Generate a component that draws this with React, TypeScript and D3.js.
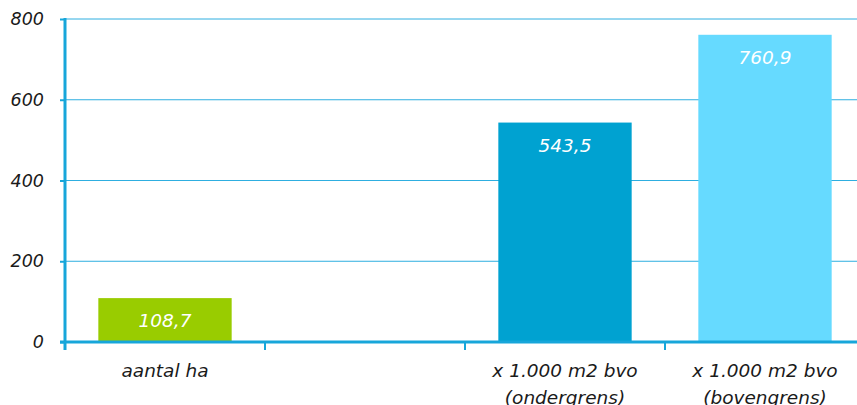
import React, { useEffect, useRef } from 'react'
import * as d3 from 'd3'

const categories = ['aantal ha', '', 'x 1.000 m2 bvo|(ondergrens)', 'x 1.000 m2 bvo|(bovengrens)']
const values: (number | null)[] = [108.7, null, 543.5, 760.9]
const barColors = ['#99cc00', '#ffffff', '#00a2d1', '#66daff']
const yTicks = [0, 200, 400, 600, 800]

const App = () => {
  const ref = useRef<SVGSVGElement>(null)
  const width = 857
  const height = 405

  useEffect(() => {
    const svg = d3.select(ref.current)
    svg.selectAll('*').remove()

    const left = 65, right = 865, top = 19, bottom = 342
    const font = 'DejaVu Sans, Verdana, sans-serif'
    const nl = d3.formatLocale({ decimal: ',', thousands: '.', grouping: [3], currency: ['€', ''] })
    const fmt = nl.format('.1f')

    const x = d3.scaleBand<number>()
      .domain(d3.range(categories.length))
      .range([left, right])
      .paddingInner(1 / 3)
      .paddingOuter(1 / 6)

    const y = d3.scaleLinear().domain([0, 800]).range([bottom, top])

    // gridlines
    svg.append('g')
      .selectAll('line')
      .data(yTicks.filter(d => d > 0))
      .join('line')
      .attr('x1', left)
      .attr('x2', width)
      .attr('y1', d => y(d))
      .attr('y2', d => y(d))
      .attr('stroke', '#2eaee0')
      .attr('stroke-width', 1)

    // bars
    const data = values.map((v, i) => ({ v, i })).filter(d => d.v !== null) as { v: number, i: number }[]
    svg.append('g')
      .selectAll('rect')
      .data(data)
      .join('rect')
      .attr('x', d => x(d.i)!)
      .attr('width', x.bandwidth())
      .attr('y', d => y(d.v))
      .attr('height', d => y(0) - y(d.v))
      .attr('fill', d => barColors[d.i])

    svg.append('g')
      .selectAll('text')
      .data(data)
      .join('text')
      .attr('x', d => x(d.i)! + x.bandwidth() / 2)
      .attr('y', d => y(d.v) + 29)
      .attr('text-anchor', 'middle')
      .attr('fill', '#ffffff')
      .attr('font-family', font)
      .attr('font-style', 'italic')
      .attr('font-size', 18.5)
      .text(d => fmt(d.v))

    // y axis
    const yAxis = svg.append('g')
      .attr('transform', `translate(${left},0)`)
      .call(d3.axisLeft(y).tickValues(yTicks).tickSize(5).tickPadding(16).tickFormat(d3.format('d')))
    yAxis.select('.domain').remove()
    yAxis.selectAll('line').attr('stroke', '#17a6da').attr('stroke-width', 2)
    yAxis.selectAll('text')
      .attr('font-family', font)
      .attr('font-style', 'italic')
      .attr('font-size', 17.5)
      .attr('fill', '#1a1a1a')
    svg.append('line')
      .attr('x1', left).attr('x2', left)
      .attr('y1', top - 1).attr('y2', bottom + 8)
      .attr('stroke', '#17a6da').attr('stroke-width', 3)

    // x axis
    const bounds = d3.range(categories.length + 1).map(i => left + i * x.step())
    svg.append('line')
      .attr('x1', left - 5).attr('x2', width)
      .attr('y1', bottom).attr('y2', bottom)
      .attr('stroke', '#17a6da').attr('stroke-width', 3)
    svg.append('g')
      .selectAll('line')
      .data(bounds.slice(1))
      .join('line')
      .attr('x1', d => d).attr('x2', d => d)
      .attr('y1', bottom).attr('y2', bottom + 8)
      .attr('stroke', '#17a6da').attr('stroke-width', 2)

    const labels = svg.append('g')
      .selectAll('text')
      .data(categories.map((c, i) => ({ c, i })))
      .join('text')
      .attr('x', d => x(d.i)! + x.bandwidth() / 2)
      .attr('y', 377)
      .attr('text-anchor', 'middle')
      .attr('font-family', font)
      .attr('font-style', 'italic')
      .attr('font-size', 18.5)
      .attr('fill', '#1a1a1a')
    labels.selectAll('tspan')
      .data(d => d.c.split('|').map((t, k) => ({ t, k, cx: x(d.i)! + x.bandwidth() / 2 })))
      .join('tspan')
      .attr('x', d => d.cx)
      .attr('dy', d => d.k === 0 ? 0 : 27)
      .text(d => d.t)
  }, [])

  return (
    <div style={{ position: 'absolute', left: 0, top: 0 }}>
      <svg ref={ref} width={width} height={height} style={{ display: 'block' }}></svg>
    </div>
  )
}

export default App
